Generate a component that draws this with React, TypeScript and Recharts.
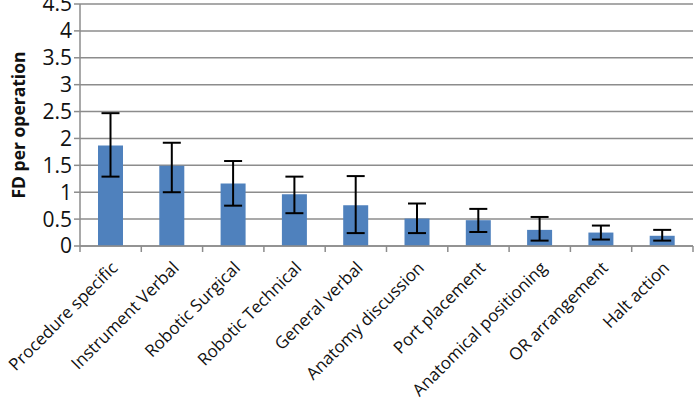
import { BarChart, Bar, XAxis, YAxis, CartesianGrid, ErrorBar } from 'recharts';

const categories = [
  'Procedure specific',
  'Instrument Verbal',
  'Robotic Surgical',
  'Robotic Technical',
  'General verbal',
  'Anatomy discussion',
  'Port placement',
  'Anatomical positioning',
  'OR arrangement',
  'Halt action',
];

// mean FD per operation, with error bar ends
const means = [1.87, 1.49, 1.16, 0.96, 0.76, 0.51, 0.48, 0.3, 0.25, 0.19];
const lowerEnds = [1.29, 1.0, 0.75, 0.61, 0.24, 0.24, 0.26, 0.1, 0.12, 0.1];
const upperEnds = [2.47, 1.92, 1.58, 1.29, 1.3, 0.79, 0.69, 0.54, 0.38, 0.3];

const yTicks = [0, 0.5, 1, 1.5, 2, 2.5, 3, 3.5, 4, 4.5];

const data = categories.map((name, i) => ({
  name,
  value: means[i],
  err: [means[i] - lowerEnds[i], upperEnds[i] - means[i]],
}));

const WIDTH = 694;
const HEIGHT = 409;
const PLOT_LEFT = 80;
const PLOT_RIGHT = 1;
const band = (WIDTH - PLOT_LEFT - PLOT_RIGHT) / categories.length;

const font = '"Open Sans", sans-serif';

const CategoryTick = (props: any) => {
  const { x, y, payload, index } = props;
  const ax = x + 8;
  const ay = y + 15;
  return (
    <g>
      <line x1={x - band / 2} y1={y - 8} x2={x - band / 2} y2={y - 2} stroke="#8c8c8c" strokeWidth={1.5} />
      {index === categories.length - 1 && (
        <line x1={x + band / 2} y1={y - 8} x2={x + band / 2} y2={y - 2} stroke="#8c8c8c" strokeWidth={1.5} />
      )}
      <text
        x={ax}
        y={ay}
        textAnchor="end"
        transform={`rotate(-45 ${ax} ${ay})`}
        fontFamily={font}
        fontSize={17}
        fill="#111"
      >
        {payload.value}
      </text>
    </g>
  );
};

export default function App() {
  return (
    <div style={{ position: 'absolute', left: 0, top: 0, background: '#fff' }}>
      <BarChart
        width={WIDTH}
        height={HEIGHT}
        data={data}
        margin={{ top: 4, right: PLOT_RIGHT, left: 0, bottom: 0 }}
        barSize={25}
      >
        <CartesianGrid vertical={false} stroke="#8c8c8c" strokeWidth={1.5} />
        <XAxis
          dataKey="name"
          interval={0}
          height={163}
          axisLine={{ stroke: '#8c8c8c', strokeWidth: 1.5 }}
          tickLine={false}
          tick={<CategoryTick />}
        />
        <YAxis
          domain={[0, 4.5]}
          ticks={yTicks}
          interval={0}
          width={PLOT_LEFT}
          axisLine={{ stroke: '#8c8c8c', strokeWidth: 1.5 }}
          tickLine={{ stroke: '#8c8c8c', strokeWidth: 1.5 }}
          tickSize={6}
          tick={{ fontFamily: font, fontSize: 21, fill: '#111' }}
          label={{
            value: 'FD per operation',
            angle: -90,
            position: 'insideLeft',
            offset: 19,
            style: { textAnchor: 'middle', fontFamily: font, fontSize: 17.5, fontWeight: 'bold', fill: '#111' },
          }}
        />
        <Bar dataKey="value" fill="#4f81bd" isAnimationActive={false}>
          <ErrorBar dataKey="err" width={9} stroke="#000" strokeWidth={2} direction="y" />
        </Bar>
      </BarChart>
    </div>
  );
}
